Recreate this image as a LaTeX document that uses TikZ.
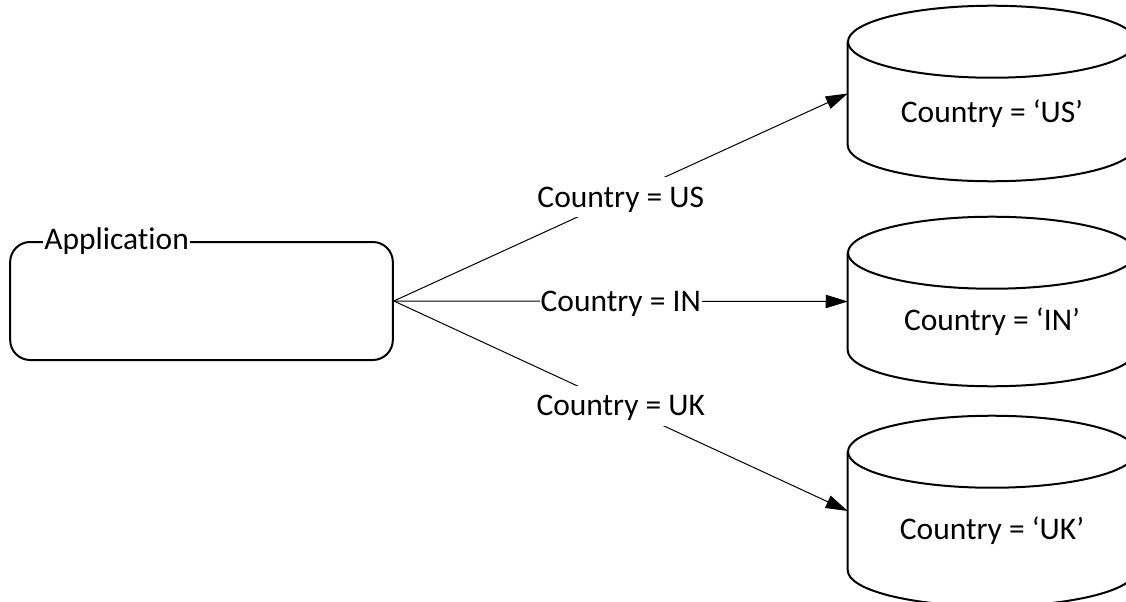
\documentclass[tikz,border=0pt]{standalone}
\usepackage{fontspec}
\setmainfont{Carlito}[Ligatures=NoCommon]
\usetikzlibrary{arrows.meta}

\begin{document}
\begin{tikzpicture}[x=0.75pt,y=-0.75pt,
  every node/.style={font=\fontsize{23.6pt}{28pt}\selectfont},
  appbox/.style={draw,rounded corners=15pt,line width=1.5pt,minimum width=287pt,minimum height=88.5pt},
  apptitle/.style={fill=white,inner sep=0.75pt,anchor=west},
  dbbody/.style={inner sep=0pt,minimum width=216pt},
  dbline/.style={line width=1.5pt},
  conn/.style={line width=0.75pt,-{Triangle[length=16.5pt,width=10pt]}},
  lbl/.style={midway,fill=white,inner xsep=0.75pt,inner ysep=0pt,text height=22.4pt,text depth=7.6pt}]
  \path[use as bounding box,clip] (0,0) rectangle (1126,602);

  \node [appbox] (app) at (201.5,301) {};
  \node [apptitle] (apptxt) at ([xshift=25.5pt]app.north west) {Application};

  \node [dbbody,minimum height=77.25pt] (us) at (992,93.5) {};
  \node [dbbody,minimum height=72.75pt] (in) at (992,301.5) {};
  \node [dbbody,minimum height=88.5pt] (uk) at (992,511) {};

  \draw[dbline] (us.north west) -- (us.south west)
    arc[start angle=180,end angle=360,x radius=108pt,y radius=27pt] -- (us.north east);
  \draw[dbline] (us.north) ellipse [x radius=108pt,y radius=27pt];
  \draw[dbline] (in.north west) -- (in.south west)
    arc[start angle=180,end angle=360,x radius=108pt,y radius=27pt] -- (in.north east);
  \draw[dbline] (in.north) ellipse [x radius=108pt,y radius=27pt];
  \draw[dbline] (uk.north west) -- (uk.south west)
    arc[start angle=180,end angle=360,x radius=108pt,y radius=27pt] -- (uk.north east);
  \draw[dbline] (uk.north) ellipse [x radius=108pt,y radius=27pt];

  \node (ustxt) at ([yshift=-15pt]us.center) {Country = ‘US’};
  \node (intxt) at ([yshift=-15pt]in.center) {Country = ‘IN’};
  \node (uktxt) at ([yshift=-15pt]uk.center) {Country = ‘UK’};

  \draw[conn] (app.east) -- (us.west) node [lbl] (lus) {Country = US};
  \draw[conn] (app.east) -- (in.west) node [lbl] (lin) {Country = IN};
  \draw[conn] (app.east) -- (uk.west) node [lbl] (luk) {Country = UK};
\end{tikzpicture}
\end{document}
